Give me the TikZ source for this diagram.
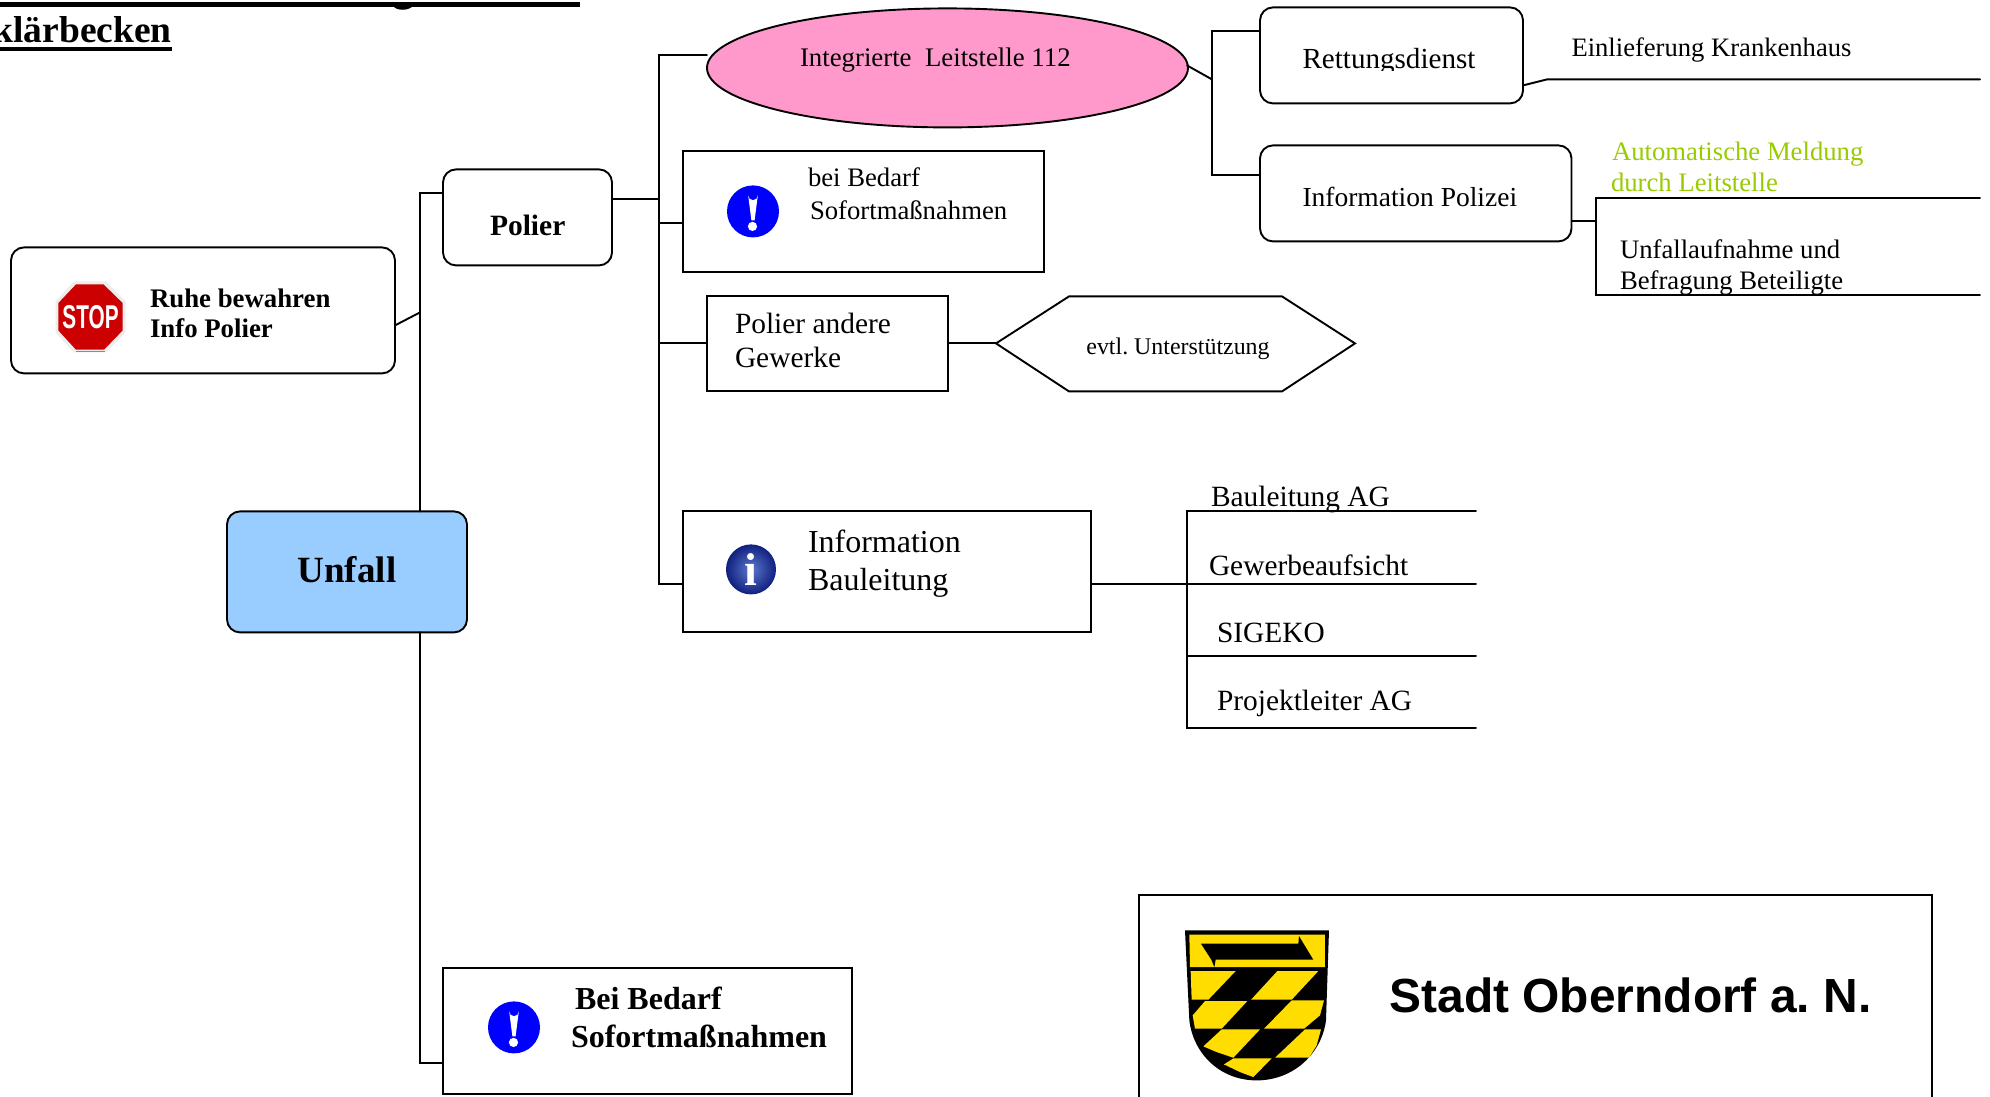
\documentclass[tikz,border=0pt]{standalone}
\usepackage{fontspec}
\usepackage{graphicx}
\usetikzlibrary{shapes.geometric}
\setmainfont{Liberation Serif}
\newfontfamily\arialf{Liberation Sans}
\definecolor{pinkfill}{HTML}{FF99CC}
\definecolor{bluefill}{HTML}{99CCFF}
\definecolor{greentext}{HTML}{99CC00}
\definecolor{shieldyellow}{HTML}{FFDD00}
\definecolor{stopred}{HTML}{CC0000}
\definecolor{infoin}{HTML}{5C78CC}
\definecolor{infoout}{HTML}{10207F}
\newcommand{\exclmark}[1]{%
  \fill[white,shift={(#1)}] (-4.8,-16) arc[start angle=180,end angle=0,radius=4.8] -- (1.6,9) -- (-1.6,9) -- cycle;
  \fill[white,shift={(#1)}] (-0.5,15) circle[radius=4.6];}
\tikzset{
  ln/.style={line width=1.9pt,line cap=round,line join=miter,black},
  roundbox/.style={draw,line width=1.9pt,rounded corners=13pt,inner sep=0pt,outer sep=0pt,fill=white},
  sharpbox/.style={draw,line width=1.9pt,inner sep=0pt,outer sep=0pt,fill=white},
  txt/.style={anchor=base west,inner sep=0pt,outer sep=0pt,align=left,font=\fontsize{#1}{#1}\selectfont},
  twol/.style 2 args={anchor=base west,inner sep=0pt,outer sep=0pt,align=left,font=\fontsize{#1}{#2}\selectfont},
  warnicon/.style={circle,fill=blue,inner sep=0pt,minimum size=52pt},
  infoicon/.style={circle,inner color=infoin,outer color=infoout,inner sep=0pt,minimum size=50pt,text=white,font=\bfseries\fontsize{46}{46}\selectfont}
}
\begin{document}
\frenchspacing
\begin{tikzpicture}[x=1pt,y=-1pt]
\useasboundingbox (0,0) rectangle (1990,1096);
\clip (0,0) rectangle (1990,1096);
\fill[white] (0,0) rectangle (1990,1096);

% title remains
\fill (0,2) rectangle (580,6.5);
\fill (393,6) .. controls (397,11) and (408,11) .. (413,6) -- cycle;
\node[anchor=base east,inner sep=0pt,font=\bfseries\fontsize{37.5}{37.5}\selectfont] (title) at (172,42) {klärbecken};
\fill (0,46.5) rectangle (172,51);

\begin{scope}[yshift=-0.4pt]
% junctions
\coordinate (tA) at (420,193);
\coordinate (tAd) at (420,312);
\coordinate (tAb) at (420,1063);
\coordinate (tB) at (659,199);
\coordinate (tBtop) at (659,55);
\coordinate (tBa) at (659,223);
\coordinate (tBb) at (659,343);
\coordinate (tBc) at (659,584);
\coordinate (tC) at (1212,79);
\coordinate (tCtop) at (1212,31);
\coordinate (tCbot) at (1212,175);
\coordinate (rL) at (1547,79);
\coordinate (rE) at (1980,79);
\coordinate (pJ) at (1595.6,221);
\coordinate (pT) at (1595.6,198);
\coordinate (pB) at (1595.6,295);
\coordinate (pTE) at (1980,198);
\coordinate (pBE) at (1980,295);
\coordinate (bJ1) at (1187,511);
\coordinate (bJ2) at (1187,584);
\coordinate (bJ3) at (1187,656);
\coordinate (bJ4) at (1187,728);
\coordinate (bE1) at (1476,511);
\coordinate (bE2) at (1476,584);
\coordinate (bE3) at (1476,656);
\coordinate (bE4) at (1476,728);
\coordinate (hW) at (996,343);
\coordinate (hNW) at (1069,296);
\coordinate (hNE) at (1282,296);
\coordinate (hE) at (1355,343);
\coordinate (hSE) at (1282,391);
\coordinate (hSW) at (1069,391);

% boxes
\node[roundbox,minimum width=384pt,minimum height=126pt] (stopbox) at (203,310) {};
\node[roundbox,minimum width=169pt,minimum height=96pt] (polier) at (527.5,217) {};
\node[roundbox,fill=bluefill,minimum width=240pt,minimum height=121pt] (unfall) at (347,571.5) {};
\node[draw,ellipse,line width=1.9pt,fill=pinkfill,inner sep=0pt,outer sep=0pt,minimum width=481pt,minimum height=119pt] (leit) at (947.5,67.5) {};
\node[sharpbox,minimum width=361pt,minimum height=121pt] (bedarf) at (863.5,211.5) {};
\node[sharpbox,minimum width=241pt,minimum height=95pt] (andere) at (827.5,343.5) {};
\node[sharpbox,minimum width=408pt,minimum height=121pt] (infobau) at (887,571.5) {};
\node[sharpbox,minimum width=409pt,minimum height=126pt] (sofort) at (647.5,1031) {};
\node[roundbox,minimum width=263pt,minimum height=96pt] (rett) at (1391.5,55) {};
\node[roundbox,minimum width=311.5pt,minimum height=96pt] (pol) at (1415.75,193) {};
\draw[ln] (hW) -- (hNW) -- (hNE) -- (hE) -- (hSE) -- (hSW) -- cycle;
\draw[line width=1.9pt] (1139,1098) -- (1139,895) -- (1932,895) -- (1932,1098);

% connectors
\draw[ln] (polier.west |- tA) -- (tA) -- (unfall.north -| tA);
\draw[ln] (stopbox.east |- 0,325) -- (tAd);
\draw[ln] (unfall.south -| tAb) -- (tAb) -- (sofort.west |- tAb);
\draw[ln] (leit.west |- tBtop) -- (tBtop) -- (tBc) -- (infobau.west |- tBc);
\draw[ln] (polier.east |- tB) -- (tB);
\draw[ln] (tBa) -- (bedarf.west |- tBa);
\draw[ln] (tBb) -- (andere.west |- tBb);
\draw[ln] (andere.east |- hW) -- (hW);
\draw[ln] (rett.west |- tCtop) -- (tCtop) -- (tCbot) -- (pol.west |- tCbot);
\draw[ln] (1187,65) -- (tC);
\draw[ln] (rett.east |- 0,85) -- (rL) -- (rE);
\draw[ln] (pol.east |- pJ) -- (pJ);
\draw[ln] (pTE) -- (pT) -- (pB) -- (pBE);
\draw[ln] (infobau.east |- bJ2) -- (bJ2);
\draw[ln] (bE1) -- (bJ1) -- (bJ4) -- (bE4);
\draw[ln] (bJ2) -- (bE2);
\draw[ln] (bJ3) -- (bE3);

% texts
\begin{scope}[yshift=-0.5pt]
\node[twol={26.8}{30}] (t1) at (150,337) {\bfseries Ruhe bewahren\\\bfseries Info Polier};
\node[txt=29.5] (t2) at (490,235) {\bfseries Polier};
\node[anchor=base,inner sep=0pt,font=\bfseries\fontsize{37}{37}\selectfont] (t3) at (347,582) {Unfall};
\node[txt=26.8] (t4) at (800,66) {Integrierte\ \ Leitstelle 112};
\node[twol={26.7}{33}] (t5) at (808,219) {bei Bedarf\\[0pt]\hspace*{2pt}Sofortmaßnahmen};
\node[twol={29.4}{34}] (t6) at (735,367) {Polier andere\\Gewerke};
\node[anchor=base,inner sep=0pt,font=\fontsize{23.9}{23.9}\selectfont] (t7) at (1178,354) {evtl. Unterstützung};
\node[twol={32}{38}] (t8) at (808,589.5) {Information\\Bauleitung};
\node[txt=29.4] (t9) at (1211,506) {Bauleitung AG};
\node[txt=29.4] (t10) at (1209,575) {Gewerbeaufsicht};
\node[txt=29.4] (t11) at (1217,642) {SIGEKO};
\node[txt=29.4] (t12) at (1217,710) {Projektleiter AG};
\node[twol={32}{38}] (t13) at (571,1046.5) {\bfseries\hspace*{4pt}Bei Bedarf\\\bfseries Sofortmaßnahmen};
\begin{scope}
\clip (1290,30) rectangle (1510,69.5);
\node[txt=29.1] (t14) at (1302.5,68) {Rettungsdienst};
\end{scope}
\node[txt=27.5] (t15) at (1302.5,206) {Information Polizei};
\node[txt=26.6] (t16) at (1571.5,56) {Einlieferung Krankenhaus};
\node[twol={26.7}{31},text=greentext] (t17) at (1611,191) {\hspace*{1pt}Automatische Meldung\\durch Leitstelle};
\node[twol={26.7}{31}] (t18) at (1620,289) {Unfallaufnahme und\\Befragung Beteiligte};
\node[anchor=base west,inner sep=0pt,font=\arialf\bfseries\fontsize{47.9}{47.9}\selectfont] (t19) at (1389.5,1012) {Stadt Oberndorf a. N.};
\end{scope}

% icons
\node[warnicon] (w1) at (753,211) {};
\exclmark{753,211}
\node[warnicon] (w2) at (514,1027) {};
\exclmark{514,1027}
\node[infoicon] (i1) at (751,569) {i};

% stop sign
\fill[white!93!black] (74,281) -- (106,281) -- (125.5,301) -- (125.5,332) -- (106,352) -- (74,352) -- (55.5,332) -- (55.5,301) -- cycle;
\fill[stopred] (76,284) -- (103.5,284) -- (122.7,302.7) -- (122.7,330) -- (104,349.3) -- (76,349.3) -- (58.3,330) -- (58.3,302.7) -- cycle;
\draw[line width=1pt,black!45] (76,351.5) -- (105,351.5);
\node[inner sep=0pt,text=white,font=\arialf\bfseries\fontsize{33}{33}\selectfont] (stopt) at (90.5,316.5) {\scalebox{.63}[1]{STOP}};

% shield
\begin{scope}[shift={(1170,920)},scale=0.3333]
\fill[black] (45,30) -- (477,30) -- (468,300) .. controls (455,400) and (370,480) .. (260,480) .. controls (150,480) and (70,400) .. (58,300) -- cycle;
\fill[shieldyellow] (58,43) -- (465,43) -- (465,140) -- (60,140) -- cycle;
\fill[black] (93,70) -- (385,70) -- (387,47) -- (430,118) -- (137,118) -- (133,140) -- (124,118) -- cycle;
\fill[shieldyellow] (62,152) -- (197,152) -- (115,238) -- (65,238) -- cycle;
\fill[shieldyellow] (322,152) -- (445,152) -- (365,238) -- (243,238) -- cycle;
\fill[shieldyellow] (105,242) -- (232,242) -- (155,325) -- (75,325) -- (68,285) -- cycle;
\fill[shieldyellow] (365,240) -- (462,240) -- (450,285) -- (402,325) -- (282,325) -- cycle;
\fill[shieldyellow] (155,327) -- (270,327) -- (190,412) -- (140,395) -- (100,378) -- cycle;
\fill[shieldyellow] (405,327) -- (453,327) -- (440,375) -- (417,412) -- (315,412) -- cycle;
\fill[shieldyellow] (190,414) -- (305,414) -- (250,470) -- (210,455) -- (162,432) -- cycle;
\end{scope}
\end{scope}
\end{tikzpicture}
\end{document}
